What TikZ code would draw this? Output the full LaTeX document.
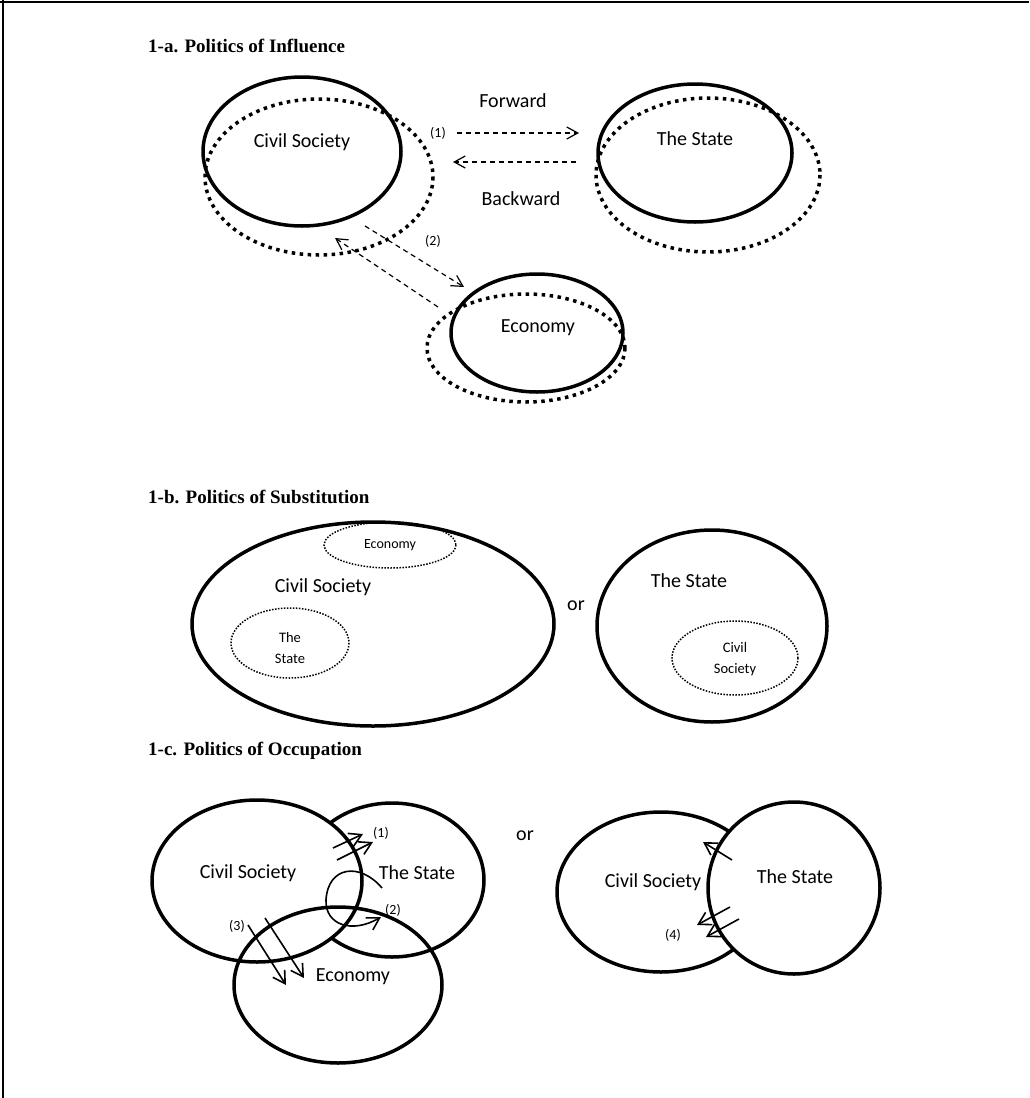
\documentclass[tikz,border=0pt]{standalone}
\usepackage{fontspec}
\setmainfont{Carlito}
\newfontfamily\headfont{Liberation Serif}
\usetikzlibrary{arrows.meta}

\begin{document}
\begin{tikzpicture}[x=1pt, y=-1pt,
  font=\fontsize{20}{24}\selectfont,
  heading/.style={anchor=west, inner sep=0pt, font=\headfont\bfseries\fontsize{19}{23}\selectfont},
  tag/.style={font=\fontsize{14}{17}\selectfont},
  inset/.style={align=center, font=\fontsize{14.5}{21}\selectfont},
  ring/.style={line width=3.5pt},
  halo/.style={line width=3.5pt, dash pattern=on 3.5pt off 4.5pt},
  dotring/.style={line width=1.5pt, dash pattern=on 1.5pt off 1.5pt},
  flow/.style={line width=1.2pt, dash pattern=on 5pt off 4pt, -{Straight Barb[length=11pt, width=12pt]}},
  push/.style={line width=1.6pt, -{Straight Barb[length=12pt, width=14pt]}}
]
  \useasboundingbox (0,0) rectangle (1029,1098);
  \draw[line width=2pt] (0,1.5) -- (1029,1.5);
  \draw[line width=1.2pt] (3,0) -- (3,1098);

  % 1-a
  \node[heading] (headA) at (148,46) {1-a. Politics of Influence};
  \draw[ring] (302,151.5) ellipse [x radius=99, y radius=74.5];
  \draw[halo] (319,177) ellipse [x radius=114, y radius=78];
  \draw[ring] (695,153) ellipse [x radius=97, y radius=69];
  \draw[halo] (708,175) ellipse [x radius=112, y radius=77];
  \draw[ring] (537,333) ellipse [x radius=86, y radius=59];
  \draw[halo] (526,348) ellipse [x radius=99, y radius=54];
  \node (csA)  at (302,142) {Civil Society};
  \node (stA)  at (695,139) {The State};
  \node (ecA)  at (538,328) {Economy};
  \node (fwd)  at (513,101) {Forward};
  \node (bwd)  at (521,199) {Backward};
  \node[tag] (oneA) at (438,133) {(1)};
  \node[tag] (twoA) at (433,241) {(2)};
  \coordinate (fw1) at (457,133); \coordinate (fw2) at (579,133);
  \coordinate (bw1) at (576,162); \coordinate (bw2) at (453,162);
  \coordinate (dn1) at (365,226); \coordinate (dn2) at (464,287);
  \coordinate (up1) at (438,307); \coordinate (up2) at (335,238);
  \draw[flow] (fw1) -- (fw2);
  \draw[flow] (bw1) -- (bw2);
  \draw[flow] (dn1) -- (dn2);
  \draw[flow] (up1) -- (up2);

  % 1-b
  \node[heading] (headB) at (148,497) {1-b. Politics of Substitution};
  \draw[ring] (373,624) ellipse [x radius=181, y radius=102];
  \draw[dotring] (390,545) ellipse [x radius=66, y radius=23];
  \draw[dotring] (290,643) ellipse [x radius=59, y radius=35];
  \draw[ring] (712,626) ellipse [x radius=115, y radius=96];
  \draw[dotring] (735,658) ellipse [x radius=63, y radius=37];
  \node (csB)  at (323,587) {Civil Society};
  \node[tag] (ecB) at (390,545) {Economy};
  \node[inset] (stB) at (290,648) {The\\State};
  \node (orB)  at (576,606) {or};
  \node (stB2) at (689,581) {The State};
  \node[inset] (csB2) at (735,659) {Civil\\Society};

  % 1-c
  \node[heading] (headC) at (148,751) {1-c. Politics of Occupation};
  \draw[ring] (392,880) ellipse [x radius=92, y radius=77];
  \draw[ring, fill=white] (257,881) ellipse [x radius=105, y radius=81];
  \draw[ring] (338,985) ellipse [x radius=104, y radius=78];
  \node (csC)  at (248,873) {Civil Society};
  \node (stC)  at (417,873) {The State};
  \node (ecC)  at (353,977) {Economy};
  \node[tag] (oneC)   at (381,833) {(1)};
  \node[tag] (twoC)   at (393,910) {(2)};
  \node[tag] (threeC) at (237,926) {(3)};
  \coordinate (a1) at (333,848); \coordinate (a2) at (363,834);
  \coordinate (b1) at (337,860); \coordinate (b2) at (373,842);
  \coordinate (c1) at (248,925); \coordinate (c2) at (286,985);
  \coordinate (d1) at (265,918); \coordinate (d2) at (304,978);
  \coordinate (e1) at (382,888); \coordinate (e2) at (381,917);
  \draw[push] (a1) -- (a2);
  \draw[push] (b1) -- (b2);
  \draw[push] (c1) -- (c2);
  \draw[push] (d1) -- (d2);
  \draw[push] (e1) .. controls (360,862) and (328,866) .. (326,900)
                   .. controls (325,925) and (352,934) .. (e2);

  \node (orC) at (525,836) {or};
  \draw[ring] (661,892) ellipse [x radius=104, y radius=80];
  \draw[ring, fill=white] (794,888) ellipse [x radius=86, y radius=86];
  \node (csD) at (653,882) {Civil Society};
  \node (stD) at (795,877) {The State};
  \node[tag] (fourD) at (673,935) {(4)};
  \coordinate (f1) at (732,860); \coordinate (f2) at (703,842);
  \coordinate (g1) at (730,907); \coordinate (g2) at (697,925);
  \coordinate (h1) at (739,919); \coordinate (h2) at (706,937);
  \draw[push] (f1) -- (f2);
  \draw[push] (g1) -- (g2);
  \draw[push] (h1) -- (h2);
\end{tikzpicture}
\end{document}
